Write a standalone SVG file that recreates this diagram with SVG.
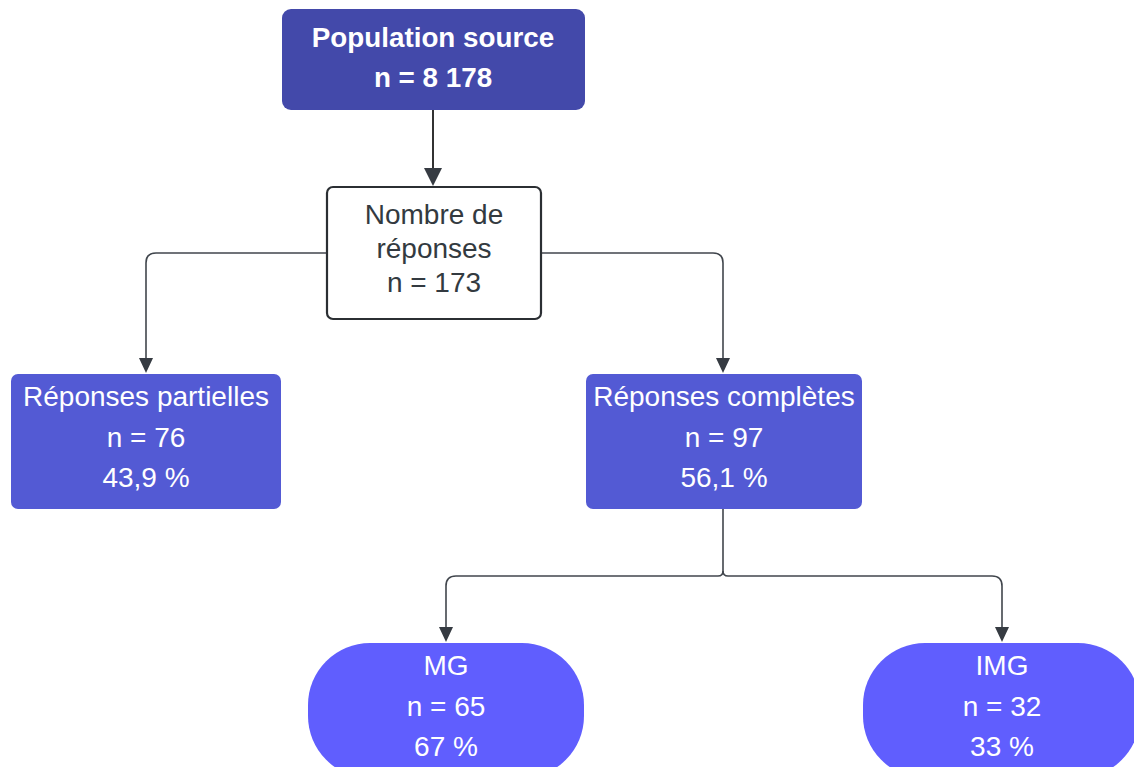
<svg xmlns="http://www.w3.org/2000/svg" width="1134" height="767" viewBox="0 0 1134 767">
<defs>
<style>
.t{font-family:"Liberation Sans",Arial,sans-serif;font-size:28px;text-anchor:middle;fill:#ffffff}
.b{font-weight:bold;font-size:27.8px}
.d{fill:#333a40}
.ln{fill:none;stroke:#41464d;stroke-width:1.6}
.ah{fill:#363b42}
</style>
</defs>
<rect width="1134" height="767" fill="#ffffff"/>
<g id="connectors">
<path d="M433,110 V170" fill="none" stroke="#333" stroke-width="2"/>
<polygon class="ah" points="424,168 442,168 433,186"/>
<path class="ln" d="M327,253 H156 Q146,253 146,263 V360"/>
<polygon class="ah" points="139,358 153,358 146,373"/>
<path class="ln" d="M541,253 H713 Q723,253 723,263 V360"/>
<polygon class="ah" points="716,358 730,358 723,373"/>
<path class="ln" d="M723,509 V571 Q723,576 718,576 H456 Q446,576 446,586 V629"/>
<polygon class="ah" points="439,627 453,627 446,642"/>
<path class="ln" d="M723,571 Q723,576 728,576 H992 Q1002,576 1002,586 V629"/>
<polygon class="ah" points="995,627 1009,627 1002,642"/>
</g>
<g id="population">
<rect x="282" y="9" width="303" height="101" rx="9" fill="#4349aa"/>
<text class="t b" x="433" y="47">Population source</text>
<text class="t b" x="433" y="87">n = 8 178</text>
</g>
<g id="nombre">
<rect x="327" y="187" width="214" height="132" rx="6" fill="#ffffff" stroke="#2b2f33" stroke-width="2.2"/>
<text class="t d" x="434" y="224">Nombre de</text>
<text class="t d" x="434" y="258">réponses</text>
<text class="t d" x="434" y="292">n = 173</text>
</g>
<g id="partielles">
<rect x="11" y="374" width="270" height="135" rx="7" fill="#535ad4"/>
<text class="t" x="146" y="406">Réponses partielles</text>
<text class="t" x="146" y="447">n = 76</text>
<text class="t" x="146" y="487">43,9 %</text>
</g>
<g id="completes">
<rect x="586" y="374" width="276" height="135" rx="7" fill="#535ad4"/>
<text class="t" x="724" y="406">Réponses complètes</text>
<text class="t" x="724" y="447">n = 97</text>
<text class="t" x="724" y="487">56,1 %</text>
</g>
<g id="mg">
<rect x="308" y="643" width="276" height="135" rx="62" ry="62" fill="#605efe"/>
<text class="t" x="446" y="675">MG</text>
<text class="t" x="446" y="716">n = 65</text>
<text class="t" x="446" y="756">67 %</text>
</g>
<g id="img">
<rect x="863" y="643" width="277" height="135" rx="62" ry="62" fill="#605efe"/>
<text class="t" x="1002" y="675">IMG</text>
<text class="t" x="1002" y="716">n = 32</text>
<text class="t" x="1002" y="756">33 %</text>
</g>
</svg>
